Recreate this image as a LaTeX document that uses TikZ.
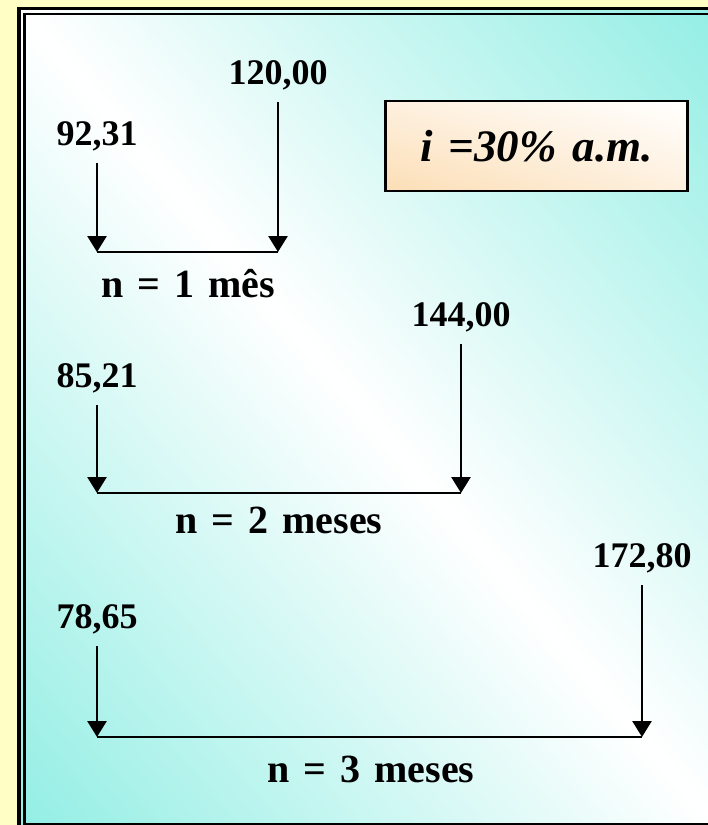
\documentclass[tikz,border=0pt]{standalone}
\usepackage{fontspec}
\setmainfont{Liberation Serif}
\newfontfamily\lblfont[WordSpace=1.2]{Liberation Serif}
\newfontfamily\boxfont[WordSpace=1.4]{Liberation Serif}
\usetikzlibrary{arrows.meta,shadings}
\definecolor{bgyellow}{RGB}{255,255,197}
\definecolor{cyanish}{RGB}{146,238,228}
\definecolor{peach}{RGB}{252,222,182}
\begin{document}
\begin{tikzpicture}[x=1pt,y=-1pt,
  num/.style={font=\bfseries\fontsize{36}{40}\selectfont, anchor=base,
              inner xsep=1pt, inner ysep=18pt, text depth=0pt},
  lbl/.style={font=\lblfont\bfseries\fontsize{40}{44}\selectfont, anchor=base, inner sep=1pt},
  arr/.style={line width=2.8pt, -{Triangle[width=19pt,length=16pt]}},
  hline/.style={line width=2.8pt},
  ratebox/.style={draw=black, line width=2.5pt, shade,
    lower left=peach, upper right=white,
    upper left=peach!45!white, lower right=peach!45!white,
    minimum width=302pt, minimum height=90pt, inner sep=0pt,
    font=\boxfont\bfseries\itshape\fontsize{45}{50}\selectfont}]
\useasboundingbox (0,0) rectangle (708,825);
\fill[bgyellow] (0,0) rectangle (708,825);
\begin{scope}
  \clip (19,8) rectangle (722,831);
  \shade[transform canvas={rotate around={40.5:(370,419)}},
         left color=cyanish, right color=cyanish, middle color=white]
         (370,419) ++(-534,-700) rectangle ++(1068,1400);
\end{scope}
\draw[line width=3.2pt] (19,8.3) rectangle (722,831);
\draw[line width=2.4pt] (24.5,13.8) rectangle (716,824);

\node[ratebox] (rate) at (536.5,146) {i =30\% a.m.};

% row 1
\node[num] (v1) at (97,145) {92,31};
\node[num] (f1) at (278,84) {120,00};
\coordinate (p1) at (97,252);
\coordinate (q1) at (278,252);
\draw[arr] (v1) -- (p1);
\draw[arr] (f1) -- (q1);
\draw[hline] (p1) -- (q1);
\node[lbl] (n1) at (188,297) {n = 1 mês};

% row 2
\node[num] (v2) at (97,387) {85,21};
\node[num] (f2) at (461,326) {144,00};
\coordinate (p2) at (97,493);
\coordinate (q2) at (461,493);
\draw[arr] (v2) -- (p2);
\draw[arr] (f2) -- (q2);
\draw[hline] (p2) -- (q2);
\node[lbl] (n2) at (279,533) {n = 2 meses};

% row 3
\node[num] (v3) at (97,628) {78,65};
\node[num] (f3) at (642,567) {172,80};
\coordinate (p3) at (97,737);
\coordinate (q3) at (642,737);
\draw[arr] (v3) -- (p3);
\draw[arr] (f3) -- (q3);
\draw[hline] (p3) -- (q3);
\node[lbl] (n3) at (371,782) {n = 3 meses};
\end{tikzpicture}
\end{document}
